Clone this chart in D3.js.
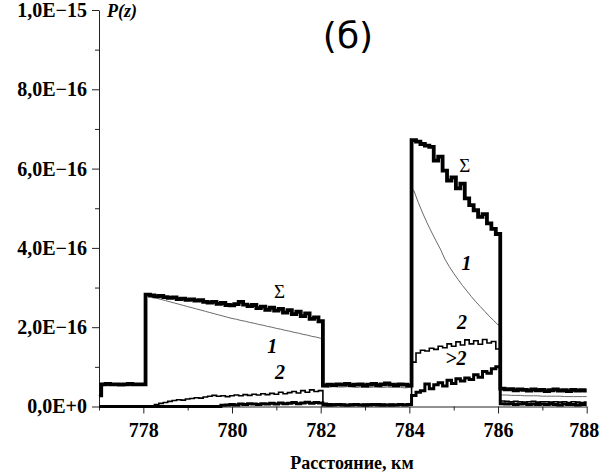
<!DOCTYPE html>
<html>
<head>
<meta charset="utf-8">
<script src="https://cdn.jsdelivr.net/npm/d3@7"></script>
<style>
  html, body { margin: 0; padding: 0; background: #fff; }
  svg { display: block; }
</style>
</head>
<body>
<svg id="chart" width="600" height="475"></svg>
<script>
// Distance grid, km (step 0.1 km)
const distanceKm = d3.range(111).map(i => 777 + i / 10);

// Backscatter power P(z), in units of 1E−16
// Σ — total signal
const sigmaTotal = [
  0.28,
  0.56, 0.57, 0.56, 0.56, 0.55, 0.56, 0.57, 0.56, 0.56, 0.56,
  2.82, 2.80, 2.78, 2.79, 2.76, 2.74, 2.75, 2.71, 2.72, 2.69,
  2.70, 2.67, 2.68, 2.64, 2.62, 2.64, 2.59, 2.61, 2.56, 2.55,
  2.58, 2.64, 2.57, 2.53, 2.56, 2.48, 2.52, 2.44, 2.49, 2.42,
  2.46, 2.37, 2.43, 2.33, 2.39, 2.28, 2.35, 2.21, 2.25, 2.15,
  0.53, 0.55, 0.54, 0.56, 0.55, 0.57, 0.54, 0.55, 0.56, 0.53,
  0.55, 0.57, 0.54, 0.56, 0.58, 0.55, 0.54, 0.56, 0.55, 0.53,
  6.72, 6.68, 6.62, 6.58, 6.55, 6.20, 6.30, 5.95, 5.70, 5.78,
  5.50, 5.62, 5.25, 5.08, 4.95, 4.78, 4.85, 4.62, 4.48, 4.35,
  0.45, 0.43, 0.44, 0.41, 0.43, 0.42, 0.40, 0.43, 0.41, 0.42,
  0.39, 0.41, 0.43, 0.40, 0.41, 0.39, 0.42, 0.40, 0.41, 0.40
];

// 1 — single scattering
const singleScatter = [
  0.28,
  0.55, 0.55, 0.55, 0.55, 0.54, 0.55, 0.55, 0.55, 0.55, 0.55,
  2.80, 2.76, 2.73, 2.70, 2.67, 2.64, 2.61, 2.58, 2.55, 2.52,
  2.49, 2.46, 2.43, 2.40, 2.37, 2.34, 2.31, 2.28, 2.25, 2.22,
  2.20, 2.17, 2.15, 2.12, 2.10, 2.07, 2.05, 2.02, 2.00, 1.97,
  1.95, 1.92, 1.90, 1.87, 1.85, 1.82, 1.80, 1.77, 1.75, 1.72,
  0.50, 0.49, 0.50, 0.49, 0.49, 0.50, 0.49, 0.48, 0.49, 0.49,
  0.48, 0.49, 0.48, 0.48, 0.49, 0.48, 0.48, 0.48, 0.47, 0.48,
  5.45, 5.15, 4.88, 4.63, 4.40, 4.18, 3.97, 3.72, 3.53, 3.36,
  3.20, 3.05, 2.91, 2.77, 2.64, 2.52, 2.40, 2.28, 2.17, 2.06,
  0.29, 0.29, 0.28, 0.28, 0.28, 0.27, 0.27, 0.27, 0.27, 0.26,
  0.26, 0.26, 0.26, 0.26, 0.25, 0.25, 0.25, 0.25, 0.25, 0.25
];

// 2 — double scattering
const doubleScatter = [
  0,
  0, 0, 0, 0, 0, 0, 0, 0, 0, 0,
  0, 0.02, 0.05, 0.08, 0.10, 0.13, 0.15, 0.17, 0.16, 0.19,
  0.20, 0.22, 0.21, 0.24, 0.26, 0.28, 0.26, 0.27, 0.25, 0.27,
  0.29, 0.27, 0.30, 0.28, 0.31, 0.29, 0.32, 0.30, 0.33, 0.31,
  0.36, 0.32, 0.35, 0.38, 0.34, 0.40, 0.36, 0.42, 0.38, 0.40,
  0.08, 0.07, 0.06, 0.07, 0.06, 0.05, 0.06, 0.07, 0.05, 0.06,
  0.06, 0.05, 0.07, 0.06, 0.05, 0.06, 0.05, 0.06, 0.05, 0.06,
  1.12, 1.35, 1.42, 1.40, 1.47, 1.44, 1.52, 1.48, 1.58, 1.52,
  1.63, 1.55, 1.68, 1.58, 1.66, 1.57, 1.69, 1.60, 1.64, 1.45,
  0.14, 0.13, 0.12, 0.13, 0.12, 0.11, 0.12, 0.13, 0.11, 0.12,
  0.12, 0.11, 0.12, 0.11, 0.12, 0.10, 0.12, 0.11, 0.10, 0.11
];

// >2 — higher scattering orders
const higherScatter = [
  0,
  0, 0, 0, 0, 0, 0, 0, 0, 0, 0,
  0, 0, 0, 0, 0, 0, 0, 0, 0, 0,
  0, 0, 0, 0, 0, 0, 0, 0.03, 0.04, 0.05,
  0.04, 0.06, 0.05, 0.07, 0.06, 0.05, 0.07, 0.06, 0.08, 0.06,
  0.09, 0.07, 0.08, 0.10, 0.07, 0.09, 0.11, 0.08, 0.10, 0.09,
  0.04, 0.03, 0.04, 0.05, 0.04, 0.03, 0.04, 0.05, 0.04, 0.03,
  0.04, 0.05, 0.04, 0.03, 0.04, 0.03, 0.04, 0.05, 0.04, 0.05,
  0.28, 0.36, 0.40, 0.57, 0.45, 0.55, 0.60, 0.52, 0.66, 0.58,
  0.70, 0.64, 0.72, 0.68, 0.80, 0.74, 0.88, 0.84, 0.95, 1.00,
  0.07, 0.06, 0.07, 0.05, 0.06, 0.07, 0.05, 0.06, 0.05, 0.06,
  0.05, 0.06, 0.05, 0.04, 0.06, 0.05, 0.05, 0.04, 0.05, 0.05
];

// Axis ticks
const xMajorTicks = [778, 780, 782, 784, 786, 788];
const xMinorTicks = [777, 779, 781, 783, 785, 787];
const yMajorTicks = [0, 2, 4, 6, 8, 10];
const yMinorTicks = [1, 3, 5, 7, 9];
const yTickLabels = ["0,0E+0", "2,0E\u221216", "4,0E\u221216", "6,0E\u221216", "8,0E\u221216", "1,0E\u221215"];

const serif = '"Liberation Serif", "Times New Roman", "DejaVu Serif", serif';
const svg = d3.select("#chart");
const x = d3.scaleLinear().domain([777, 788]).range([99, 586.7]);
const y = d3.scaleLinear().domain([0, 10]).range([406.5, 10]);

// Axes
const yAxis = svg.append("g").attr("transform", "translate(99,0)")
  .call(d3.axisLeft(y).tickValues(yMajorTicks).tickSize(7).tickSizeOuter(0).tickPadding(5)
    .tickFormat((d, i) => yTickLabels[i]));
yAxis.append("g").call(d3.axisLeft(y).tickValues(yMinorTicks).tickSize(4).tickFormat(""))
  .select(".domain").remove();

const xAxis = svg.append("g").attr("transform", "translate(0,406.5)")
  .call(d3.axisBottom(x).tickValues(xMajorTicks).tickSize(7).tickSizeOuter(0).tickPadding(9)
    .tickFormat(d3.format("d")));
xAxis.append("g").call(d3.axisBottom(x).tickValues(xMinorTicks).tickSize(4).tickFormat(""))
  .select(".domain").remove();
// keep the last label inside the frame
xAxis.selectAll(".tick text").filter(d => d === 788).attr("dx", -3);

[yAxis, xAxis].forEach(g => g
  .attr("font-family", serif).attr("font-size", 20).attr("font-weight", "bold"));
svg.selectAll(".tick text").attr("fill", "#000");
svg.selectAll(".domain, .tick line").attr("stroke", "#222").attr("stroke-width", 1);

// Curves: stepped traces; the single-scattering trace is smooth between jumps
const stepLine = d3.line()
  .x((d, i) => x(distanceKm[i]))
  .y(d => y(d))
  .curve(d3.curveStep);

function smoothWithJumps(series) {
  const pts = [];
  series.forEach((v, i) => {
    if (i > 0 && Math.abs(v - series[i - 1]) > 0.6) {
      const mid = (distanceKm[i] + distanceKm[i - 1]) / 2;
      pts.push([mid, series[i - 1]], [mid, v]);
    }
    pts.push([distanceKm[i], v]);
  });
  return d3.line().x(p => x(p[0])).y(p => y(p[1]))(pts);
}

const curves = [
  { d: smoothWithJumps(singleScatter), width: 1, color: "#6a6a6a" },
  { d: stepLine(doubleScatter), width: 1.6, color: "#000" },
  { d: stepLine(higherScatter), width: 3, color: "#000" },
  { d: stepLine(sigmaTotal), width: 3.8, color: "#000" }
];
svg.append("g").selectAll("path").data(curves).join("path")
  .attr("d", c => c.d)
  .attr("fill", "none")
  .attr("stroke", c => c.color)
  .attr("stroke-width", c => c.width)
  .attr("stroke-linejoin", "miter");

// Curve labels
const labels = [
  { t: "\u03A3", k: 781.07, v: 2.74, style: "normal", weight: "normal", size: 19 },
  { t: "1", k: 780.91, v: 1.35, style: "italic", weight: "bold", size: 20 },
  { t: "2", k: 781.08, v: 0.69, style: "italic", weight: "bold", size: 20 },
  { t: "\u03A3", k: 785.25, v: 5.91, style: "normal", weight: "normal", size: 19 },
  { t: "1", k: 785.29, v: 3.44, style: "italic", weight: "bold", size: 20 },
  { t: "2", k: 785.19, v: 1.95, style: "italic", weight: "bold", size: 20 },
  { t: ">2", k: 785.05, v: 1.05, style: "italic", weight: "bold", size: 20 }
];
svg.append("g").selectAll("text").data(labels).join("text")
  .attr("x", d => x(d.k)).attr("y", d => y(d.v))
  .attr("text-anchor", "middle")
  .attr("font-family", serif)
  .attr("font-style", d => d.style)
  .attr("font-weight", d => d.weight)
  .attr("font-size", d => d.size)
  .text(d => d.t);

// Axis titles and panel mark
svg.append("text").attr("x", 107).attr("y", 17)
  .attr("font-family", serif).attr("font-style", "italic").attr("font-weight", "bold").attr("font-size", 18)
  .text("P(z)");
svg.append("text").attr("x", 352).attr("y", 469).attr("text-anchor", "middle")
  .attr("font-family", serif).attr("font-weight", "bold").attr("font-size", 18)
  .text("Расстояние, км");
svg.append("text").attr("x", 348).attr("y", 48).attr("text-anchor", "middle")
  .attr("font-family", '"DejaVu Sans", Verdana, sans-serif').attr("font-size", 36)
  .text("(б)");
</script>
</body>
</html>
